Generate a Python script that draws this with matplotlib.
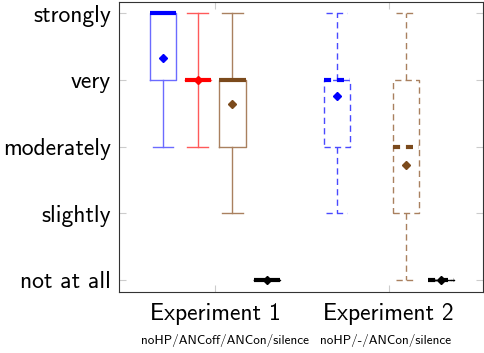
import matplotlib
matplotlib.use('Agg')
import matplotlib.pyplot as plt

levels = ['not at all', 'slightly', 'moderately', 'very', 'strongly']
groups = ['Experiment 1', 'Experiment 2']
conditions = ['noHP/ANCoff/ANCon/silence', 'noHP/-/ANCon/silence']

# one entry per box: position, whiskers, quartiles, median, mean
positions = [1, 2, 3, 4, 6, 8, 9]
whis_lo = [2, 2, 1, 0, 1, 0, 0]
q1 = [3, 3, 2, 0, 2, 1, 0]
medians = [4, 3, 3, 0, 3, 2, 0]
q3 = [4, 3, 3, 0, 3, 3, 0]
whis_hi = [4, 4, 4, 0, 4, 4, 0]
means = [3.33, 3.0, 2.63, 0.0, 2.75, 1.73, 0.0]

line_col = ['#6b6bff', '#ff5a5a', '#a9805f', 'black', '#4a4aff', '#a9805f', 'black']
med_col = ['blue', 'red', '#7b4a1c', 'black', 'blue', '#7b4a1c', 'black']
mean_col = ['blue', 'red', '#7b4a1c', 'black', 'blue', '#7b4a1c', 'black']
dashed = [False, False, False, False, True, True, True]

plt.rcParams['font.family'] = ['cmss10', 'DejaVu Sans']

fig = plt.figure(figsize=(4.84, 3.53), dpi=100)
ax = fig.add_axes([0.2459, 0.1728, 0.7521, 0.8215])

for i in range(len(positions)):
    st = [dict(whislo=whis_lo[i], q1=q1[i], med=medians[i], q3=q3[i],
               whishi=whis_hi[i], mean=means[i], fliers=[])]
    ls = (0, (4.5, 3)) if dashed[i] else '-'
    mls = (0, (1.7, 1.4)) if dashed[i] else '-'
    ax.bxp(st, positions=[positions[i]], widths=0.75, showmeans=True,
           boxprops=dict(color=line_col[i], lw=1, ls=ls),
           whiskerprops=dict(color=line_col[i], lw=1, ls=ls),
           capprops=dict(color=line_col[i], lw=1, ls=ls),
           medianprops=dict(color=med_col[i], lw=3, ls=mls),
           meanprops=dict(marker='D', markersize=4.5, markerfacecolor=mean_col[i],
                          markeredgecolor=mean_col[i]),
           capwidths=0.6, manage_ticks=False)

ax.set_xlim(-0.27, 10.22)
ax.set_ylim(-0.18, 4.165)
ax.set_yticks(range(len(levels)))
ax.set_yticklabels(levels, fontsize=17)
ax.set_xticks([2.5, 7.5])
ax.set_xticklabels(groups, fontsize=17)
ax.tick_params(direction='in', length=5, color='#cccccc', top=True, right=True, pad=6)
ax.tick_params(axis='x', pad=8)
for s in ax.spines.values():
    s.set_color('#333333')

ax.text(2.79, -0.91, conditions[0], fontsize=9.5, ha='center', va='center')
ax.text(7.40, -0.91, conditions[1], fontsize=9.5, ha='center', va='center')

fig.savefig('out.png', dpi=100)
